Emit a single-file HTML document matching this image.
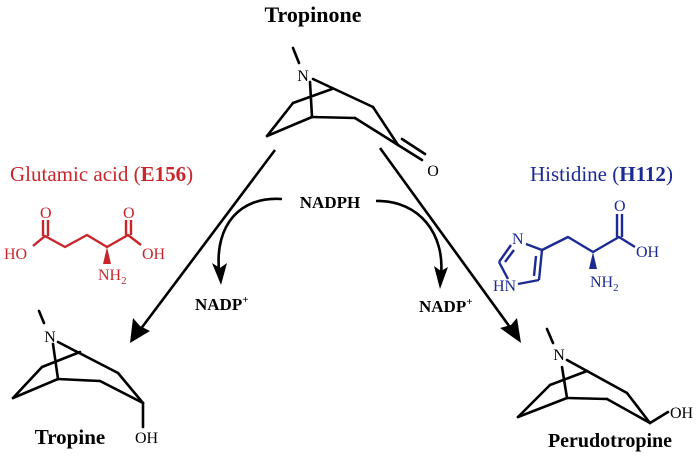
<!DOCTYPE html>
<html><head><meta charset="utf-8"><style>
html,body{margin:0;padding:0;background:#fff;}
svg{display:block;}
text{font-family:"Liberation Serif",serif;}
</style></head><body>
<svg width="700" height="458" viewBox="0 0 700 458" xmlns="http://www.w3.org/2000/svg">
<!-- Tropinone -->
<text x="313" y="22" font-size="22" font-weight="bold" text-anchor="middle">Tropinone</text>
<g stroke="#000" stroke-width="2.6" fill="none" stroke-linecap="round">
<line x1="293" y1="48" x2="299" y2="63"/>
<line x1="310" y1="82" x2="312" y2="117"/>
<line x1="313" y1="79" x2="373" y2="107"/>
<line x1="373" y1="107" x2="398" y2="145"/>
<line x1="312" y1="117" x2="355" y2="118"/>
<line x1="355" y1="118" x2="398" y2="145"/>
<line x1="312" y1="117" x2="267" y2="136"/>
<line x1="267" y1="136" x2="293" y2="103"/>
<line x1="293" y1="103" x2="332" y2="89"/>
<line x1="398" y1="145" x2="422" y2="160"/>
<line x1="402" y1="139" x2="425" y2="154"/>
</g>
<text x="303" y="81" font-size="16" text-anchor="middle">N</text>
<text x="433" y="176" font-size="16" text-anchor="middle">O</text>
<!-- Main arrows -->
<g stroke="#000" stroke-width="2.6" fill="none">
<line x1="275" y1="150" x2="140" y2="330"/>
<line x1="380" y1="148" x2="512" y2="330"/>
</g>
<path d="M130,343 L133,318 L140,326 L150,331 Z" fill="#000"/>
<path d="M521,343 L500,328 L511,325 L517,318 Z" fill="#000"/>
<!-- NADPH curves -->
<text x="330" y="208" font-size="17" font-weight="bold" text-anchor="middle">NADPH</text>
<g stroke="#000" stroke-width="2.6" fill="none">
<path d="M282,199 C240,196 215,225 219,270"/>
<path d="M376,201 C420,200 445,235 441,275"/>
</g>
<path d="M221,285 L212,263 L220,268 L227,263 Z" fill="#000"/>
<path d="M440,289 L434,266 L441,271 L448,267 Z" fill="#000"/>
<text x="195" y="310" font-size="17" font-weight="bold">NADP<tspan font-size="11" dy="-7">+</tspan></text>
<text x="419" y="312" font-size="17" font-weight="bold">NADP<tspan font-size="11" dy="-7">+</tspan></text>
<!-- Glutamic acid -->
<text x="10" y="181" font-size="21" fill="#c8262b">Glutamic acid (<tspan font-weight="bold">E156</tspan>)</text>
<g stroke="#c8262b" stroke-width="2.4" fill="none" stroke-linejoin="round">
<polyline points="33,246 45,236 65,247 87,235 107,247 128,235 141,245"/>
<line x1="43" y1="236" x2="43" y2="220"/><line x1="48" y1="236" x2="48" y2="220"/>
<line x1="126" y1="235" x2="126" y2="220"/><line x1="131" y1="235" x2="131" y2="220"/>
</g>
<path d="M107,247 L103,264 L111,264 Z" fill="#c8262b"/>
<g fill="#c8262b" font-size="16">
<text x="4" y="259">HO</text>
<text x="40" y="218">O</text>
<text x="123" y="218">O</text>
<text x="142" y="259">OH</text>
<text x="98" y="280">NH<tspan font-size="11" dy="4">2</tspan></text>
</g>
<!-- Histidine -->
<text x="530" y="181" font-size="21" fill="#1c2a94">Histidine (<tspan font-weight="bold">H112</tspan>)</text>
<g stroke="#1c2a94" stroke-width="2.4" fill="none" stroke-linejoin="round">
<line x1="526" y1="244" x2="542" y2="250"/>
<line x1="542" y1="250" x2="539" y2="280"/>
<line x1="536" y1="256" x2="534" y2="276"/>
<line x1="539" y1="280" x2="518" y2="284"/>
<line x1="508" y1="279" x2="499" y2="262"/>
<line x1="499" y1="262" x2="511" y2="245"/>
<line x1="505" y1="262" x2="514" y2="250"/>
<polyline points="542,250 568,237 593,252 619,237 635,247"/>
<line x1="617" y1="237" x2="617" y2="214"/><line x1="622" y1="237" x2="622" y2="214"/>
</g>
<path d="M593,252 L589,269 L597,269 Z" fill="#1c2a94"/>
<g fill="#1c2a94" font-size="16">
<text x="512" y="244">N</text>
<text x="493" y="291">HN</text>
<text x="614" y="211">O</text>
<text x="636" y="257">OH</text>
<text x="590" y="287">NH<tspan font-size="11" dy="4">2</tspan></text>
</g>
<!-- Tropine -->
<g stroke="#000" stroke-width="2.6" fill="none" stroke-linecap="round">
<line x1="39" y1="311" x2="44" y2="323"/>
<line x1="53" y1="344" x2="58" y2="379"/>
<line x1="58" y1="342" x2="118" y2="373"/>
<line x1="118" y1="373" x2="143" y2="403"/>
<line x1="58" y1="379" x2="100" y2="381"/>
<line x1="100" y1="381" x2="143" y2="403"/>
<line x1="58" y1="379" x2="13" y2="398"/>
<line x1="13" y1="398" x2="42" y2="367"/>
<line x1="42" y1="367" x2="80" y2="352"/>
<line x1="143" y1="403" x2="143" y2="427"/>
</g>
<text x="50" y="342" font-size="16" text-anchor="middle">N</text>
<text x="135" y="443" font-size="16">OH</text>
<text x="70" y="444" font-size="21" font-weight="bold" text-anchor="middle">Tropine</text>
<!-- Pseudotropine -->
<g stroke="#000" stroke-width="2.6" fill="none" stroke-linecap="round">
<line x1="547" y1="329" x2="553" y2="343"/>
<line x1="562" y1="367" x2="567" y2="398"/>
<line x1="567" y1="360" x2="627" y2="393"/>
<line x1="627" y1="393" x2="650" y2="423"/>
<line x1="567" y1="398" x2="607" y2="399"/>
<line x1="607" y1="399" x2="650" y2="423"/>
<line x1="567" y1="398" x2="518" y2="417"/>
<line x1="518" y1="417" x2="550" y2="385"/>
<line x1="550" y1="385" x2="587" y2="371"/>
<line x1="650" y1="423" x2="668" y2="412"/>
</g>
<text x="559" y="360" font-size="16" text-anchor="middle">N</text>
<text x="670" y="418" font-size="16">OH</text>
<text x="610" y="447" font-size="20" font-weight="bold" text-anchor="middle">Perudotropine</text>
</svg>
</body></html>
